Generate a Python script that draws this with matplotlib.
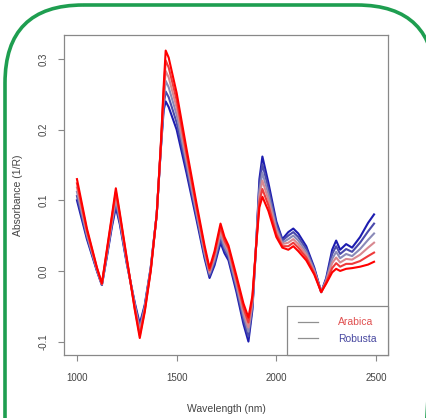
import matplotlib
matplotlib.use('Agg')
import matplotlib.pyplot as plt
from matplotlib.patches import FancyBboxPatch

plt.rcParams['font.family'] = ['Liberation Sans', 'DejaVu Sans']

# wavelength nodes (nm)
wavelength = [1000, 1050, 1100, 1125, 1150, 1175, 1195, 1215, 1250, 1290,
              1315, 1340, 1370, 1400, 1420, 1435, 1445, 1460, 1500, 1550,
              1600, 1640, 1665, 1690, 1720, 1740, 1760, 1800, 1835, 1860,
              1880, 1900, 1915, 1930, 1960, 2000, 2030, 2060, 2085, 2110,
              2150, 2190, 2225, 2250, 2280, 2300, 2320, 2350, 2380, 2420,
              2460, 2490]

# Arabica spectra (red side of the bundle)
arabica_1 = [.130, .060, .005, -.018, .030, .078, .117, .082, .018, -.055,
             -.095, -.058, .000, .080, .175, .262, .312, .302, .252, .172,
             .095, .036, .004, .028, .067, .048, .036, -.007, -.046, -.066,
             -.035, .040, .090, .105, .085, .048, .033, .030, .035, .028,
             .015, -.005, -.030, -.018, -.002, .003, .000, .003, .004, .006,
             .009, .013]
arabica_2 = [.124, .057, .004, -.018, .028, .075, .112, .079, .016, -.053,
             -.091, -.056, .001, .080, .174, .255, .298, .288, .242, .165,
             .090, .032, .001, .024, .062, .043, .032, -.012, -.052, -.073,
             -.039, .041, .098, .116, .093, .052, .035, .035, .040, .033,
             .019, -.003, -.030, -.016, .004, .011, .006, .010, .010, .014,
             .021, .026]
arabica_3 = [.118, .054, .003, -.019, .026, .072, .106, .076, .015, -.051,
             -.087, -.054, .002, .080, .173, .248, .283, .274, .231, .158,
             .086, .029, -.002, .020, .056, .039, .028, -.016, -.058, -.080,
             -.043, .042, .106, .128, .101, .057, .038, .040, .045, .038,
             .023, -.001, -.030, -.015, .011, .019, .012, .017, .016, .023,
             .033, .040]

# Robusta spectra (blue side of the bundle)
robusta_3 = [.112, .051, .002, -.019, .024, .068, .101, .072, .013, -.049,
             -.083, -.052, .003, .080, .172, .242, .269, .260, .221, .152,
             .081, .025, -.004, .016, .051, .034, .023, -.021, -.063, -.086,
             -.047, .043, .114, .139, .109, .061, .040, .045, .050, .043,
             .027, .001, -.030, -.013, .017, .027, .018, .024, .021, .031,
             .044, .053]
robusta_2 = [.106, .048, .001, -.020, .022, .065, .095, .069, .012, -.047,
             -.079, -.050, .004, .080, .171, .235, .254, .246, .210, .145,
             .077, .022, -.007, .012, .045, .030, .019, -.025, -.069, -.093,
             -.051, .044, .122, .151, .117, .066, .043, .050, .055, .048,
             .031, .003, -.030, -.012, .024, .035, .024, .031, .027, .040,
             .056, .067]
robusta_1 = [.100, .045, .000, -.020, .020, .062, .090, .066, .010, -.045,
             -.075, -.048, .005, .080, .170, .228, .240, .232, .200, .138,
             .072, .018, -.010, .008, .040, .025, .015, -.030, -.075, -.100,
             -.055, .045, .130, .162, .125, .070, .045, .055, .060, .053,
             .035, .005, -.030, -.010, .030, .043, .030, .038, .033, .048,
             .068, .080]

spectra = [robusta_1, robusta_2, robusta_3, arabica_3, arabica_2, arabica_1]
colors = ['#1c1cb0', '#4a4aac', '#8a8ab8', '#d88890', '#ee3a3a', '#ff0000']

fig = plt.figure(figsize=(4.27, 4.18), dpi=100)

# green rounded frame, drawn in pixel units (runs off the right and bottom)
bg = fig.add_axes([0, 0, 1, 1], zorder=0)
bg.set_xlim(0, 427)
bg.set_ylim(418, 0)
bg.axis('off')
bg.add_patch(FancyBboxPatch((5, 5), 430, 700, boxstyle='round,pad=0,rounding_size=78',
                            fill=False, edgecolor='#1e9e50', linewidth=2.6))

ax = fig.add_axes([64 / 427, 63 / 418, 324 / 427, 320 / 418], zorder=1)
ax.patch.set_alpha(0)
for spec, c in zip(spectra, colors):
    ax.plot(wavelength, spec, color=c, lw=1.5, solid_joinstyle='round')

ax.set_xlim(935, 2560)
ax.set_ylim(-0.119, 0.334)
ax.set_xticks([1000, 1500, 2000, 2500])
ax.set_yticks([-0.1, 0.0, 0.1, 0.2, 0.3])
ax.set_yticklabels(['-0.1', '0.0', '0.1', '0.2', '0.3'], rotation=90, va='center')
ax.tick_params(direction='out', length=4, width=0.8, colors='#888888',
               labelcolor='#444444', labelsize=7)
ax.tick_params(axis='x', pad=9)
ax.tick_params(axis='y', pad=7)
for s in ax.spines.values():
    s.set_color('#888888')
    s.set_linewidth(0.9)

ax.set_xlabel('Wavelength (nm)', fontsize=7.5, color='#444444', labelpad=15)
ax.set_ylabel('Absorbance (1/R)', fontsize=7.5, color='#444444', labelpad=11)

h1, = ax.plot([], [], color='#909090', lw=0.9)
h2, = ax.plot([], [], color='#909090', lw=0.9)
leg = ax.legend([h1, h2], ['Arabica', 'Robusta'], loc='lower right', fontsize=7.5,
                borderaxespad=0, fancybox=False, borderpad=1.1, labelspacing=0.6,
                handlelength=1.9, handletextpad=1.9, framealpha=1)
leg.get_frame().set_edgecolor('#888888')
leg.get_frame().set_linewidth(0.9)
leg.get_texts()[0].set_color('#e05050')
leg.get_texts()[1].set_color('#4848a0')

fig.savefig('out.png', dpi=100)
